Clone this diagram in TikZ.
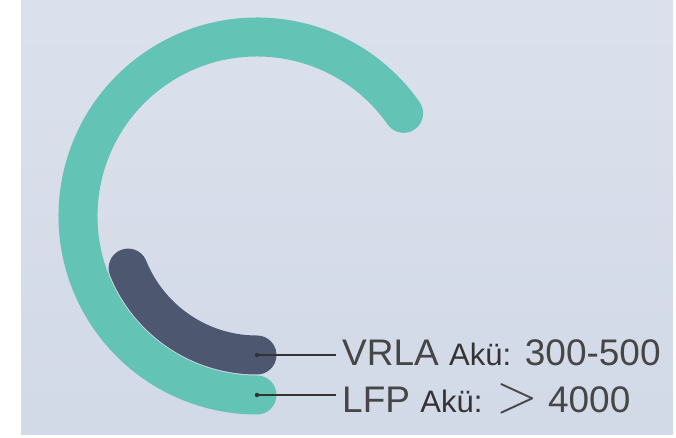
\documentclass[tikz,border=0pt]{standalone}
\usepackage{fontspec}
\setmainfont{Liberation Sans}
\usetikzlibrary{positioning}
\definecolor{ringgreen}{HTML}{63C3B4}
\definecolor{ringdark}{HTML}{4D5870}
\definecolor{bgtop}{HTML}{DBE1EC}
\definecolor{bgbottom}{HTML}{D2D9E7}
\definecolor{labelgray}{HTML}{464646}
\definecolor{akugray}{HTML}{333333}
\newcommand{\akuword}{{\fontsize{31}{34}\selectfont\color{akugray}Akü:}}
\newcommand{\bigmore}{\scalebox{2.2}{$>$}}

\begin{document}
\begin{tikzpicture}[x=1pt,y=1pt,
    ring/.style={line width=39pt,line cap=round},
    leader/.style={draw=akugray,line width=1.3pt},
    dot/.style={circle,fill=akugray,inner sep=0pt,minimum size=4.5pt},
    lbl/.style={anchor=base west,inner xsep=6pt,inner ysep=0pt,text=labelgray,
      font=\fontsize{37}{40}\selectfont}]
  \useasboundingbox (0,0) rectangle (676,437);
  \shade[top color=bgtop,bottom color=bgbottom] (21,3) rectangle (673,437);
  \coordinate (hub) at (257,221);
  \draw[ring,ringgreen] (hub) ++(35:179) coordinate (lfpstart)
    arc[start angle=35,end angle=270,radius=179] coordinate (lfpend);
  \draw[ring,ringdark] (hub) ++(202:139) coordinate (vrlastart)
    arc[start angle=202,end angle=270,radius=139] coordinate (vrlaend);
  \node[dot] (vrladot) at (vrlaend) {};
  \node[dot] (lfpdot) at (lfpend) {};
  \node[lbl] (vrla) at (336,72) {VRLA \akuword{} 300-500};
  \node[lbl] (lfp) at (336,25) {LFP \akuword{} \bigmore{} 4000};
  \draw[leader] (vrladot.center) -- (vrladot -| vrla.west);
  \draw[leader] (lfpdot.center) -- (lfpdot -| lfp.west);
\end{tikzpicture}
\end{document}
